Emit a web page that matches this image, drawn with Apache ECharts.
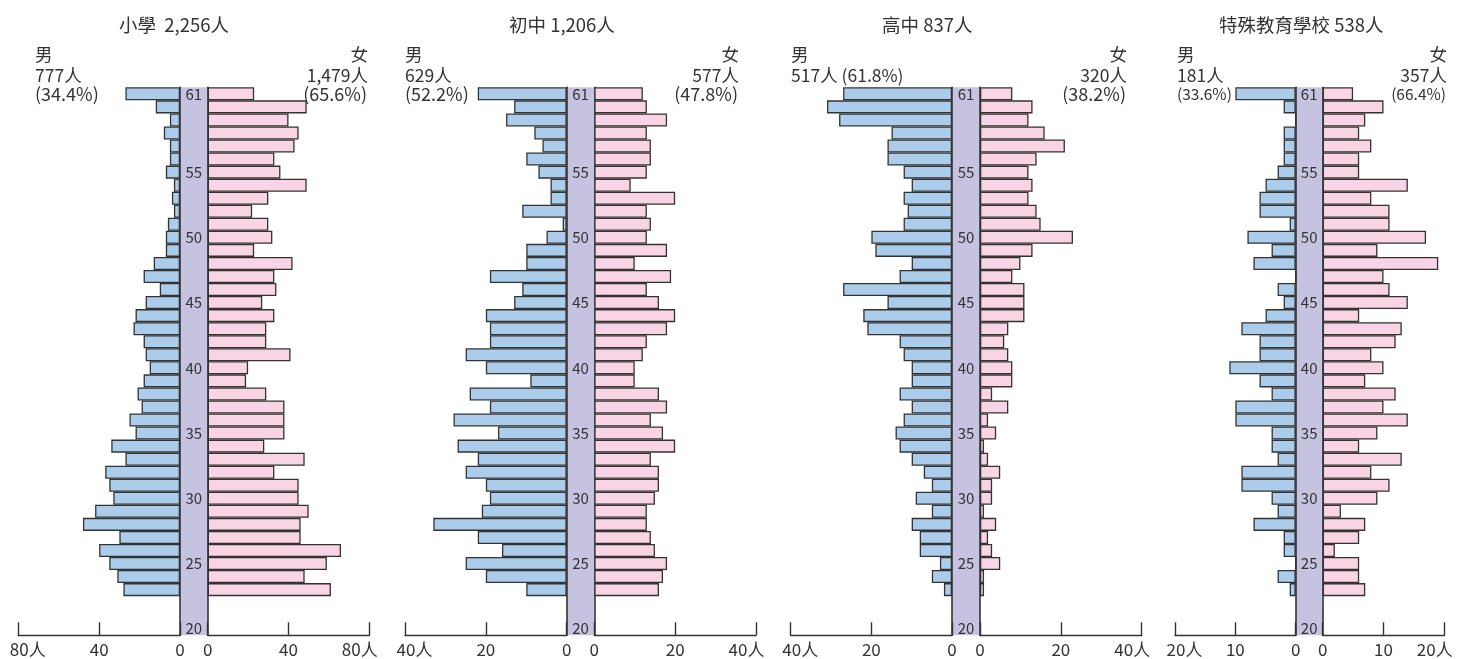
<!DOCTYPE html>
<html><head><meta charset="utf-8">
<script src="https://cdn.jsdelivr.net/npm/echarts/dist/echarts.min.js"></script>
<style>html,body{margin:0;padding:0;background:#fff}#c{width:1472px;height:659px}</style>
</head><body><div id="c"></div>
<script>
// ---- categories ----
const ages = ['20','21','22','23','24','25','26','27','28','29','30','31','32','33','34','35','36','37','38','39','40',
              '41','42','43','44','45','46','47','48','49','50','51','52','53','54','55','56','57','58','59','60','61'];
const shownAgeLabels = ['20','25','30','35','40','45','50','55','61'];

// ---- series values, listed from age 61 down to age 23 ----
const primaryMale   = [27,12,5,8,5,5,7,3,4,3, 6,7,7,13,18,10,17,22,23,18, 17,15,18,21,19,25,22,34,27,37, 35,33,42,48,30,40,35,31,28];
const primaryFemale = [23,49,40,45,43,33,36,49,30,22, 30,32,23,42,33,34,27,33,29,29, 41,20,19,29,38,38,38,28,48,33, 45,45,50,46,46,66,59,48,61];
const juniorMale    = [22,13,15,8,6,10,7,4,4,11, 1,5,10,10,19,11,13,20,19,19, 25,20,9,24,19,28,17,27,22,25, 20,19,21,33,22,16,25,20,10];
const juniorFemale  = [12,13,18,13,14,14,13,9,20,13, 14,13,18,10,19,13,16,20,18,13, 12,10,10,16,18,14,17,20,14,16, 16,15,13,13,14,15,18,17,16];
const seniorMale    = [27,31,28,15,16,16,12,10,12,11, 12,20,19,10,13,27,16,22,21,13, 12,10,10,13,10,12,14,13,10,7, 5,9,5,10,8,8,3,5,2];
const seniorFemale  = [8,13,12,16,21,14,12,13,12,14, 15,23,13,10,8,11,11,11,7,6, 7,8,8,3,7,2,4,1,2,5, 3,3,1,4,2,3,5,1,1];
const specialMale   = [10,2,0,2,2,2,3,5,6,6, 1,8,4,7,0,3,2,5,9,6, 6,11,6,4,10,10,4,4,3,9, 9,4,3,7,2,2,0,3,1];
const specialFemale = [5,10,7,6,8,6,6,14,8,11, 11,17,9,19,10,11,14,6,13,12, 8,10,7,12,10,14,9,6,13,8, 11,9,3,7,6,2,6,6,7];

// ---- texts ----
const panelTitles  = ['小學  2,256人','初中 1,206人','高中 837人','特殊教育學校 538人'];
const maleTotals   = ['777人','629人','517人','181人'];
const malePcts     = ['(34.4%)','(52.2%)','(61.8%)','(33.6%)'];
const femaleTotals = ['1,479人','577人','320人','357人'];
const femalePcts   = ['(65.6%)','(47.8%)','(38.2%)','(66.4%)'];
const axisMaxes    = [80,40,40,20];
const axisSteps    = [40,20,20,10];

const maleSets   = [primaryMale, juniorMale, seniorMale, specialMale];
const femaleSets = [primaryFemale, juniorFemale, seniorFemale, specialFemale];

// ---- layout (pixels) ----
const TOP = 87.3, HEIGHT = 548;
const layout = [
  {mL:18.3,  m0:180,    f0:207.7, fR:369.3,  titleX:119,  mX:35,   fX:368,  pctSameLine:false, pctSize:18},
  {mL:405,   m0:566.7,  f0:594.3, fR:756,    titleX:509,  mX:405,  fX:739,  pctSameLine:false, pctSize:18},
  {mL:790.7, m0:952,    f0:980,   fR:1141.7, titleX:882,  mX:791,  fX:1127, pctSameLine:true,  pctSize:18},
  {mL:1175,  m0:1295.7, f0:1322.7,fR:1444.3, titleX:1219, mX:1177, fX:1447, pctSameLine:false, pctSize:15.5}
];

const FONT = '"Noto Sans CJK TC","Noto Sans CJK SC","Noto Sans",sans-serif';
const TXT = '#333333';
const BLUE = '#abcdeb', PINK = '#f8d4e4', BAND = '#c6c3e1', EDGE = '#333333';

function toSeriesData(vals){
  const up = vals.slice().reverse(); // age 23 -> 61
  return [null,null,null].concat(up);
}

const grid = [], xAxis = [], yAxis = [], series = [], graphic = [];
layout.forEach((L, p) => {
  const max = axisMaxes[p], step = axisSteps[p];
  const gm = grid.length;
  grid.push({left:L.mL, top:TOP, width:L.m0-L.mL, height:HEIGHT, containLabel:false});
  grid.push({left:L.f0, top:TOP, width:L.fR-L.f0, height:HEIGHT, containLabel:false});
  grid.push({left:L.m0, top:TOP, width:L.f0-L.m0, height:HEIGHT, show:true, backgroundColor:BAND, borderWidth:0, containLabel:false});

  const axisCommon = {
    type:'value', min:0, max:max, interval:step, position:'bottom',
    axisLine:{show:true, lineStyle:{color:EDGE, width:1.4}},
    axisTick:{show:true, inside:true, length:13, lineStyle:{color:EDGE, width:1.4}},
    splitLine:{show:false}
  };
  xAxis.push(Object.assign({}, axisCommon, {gridIndex:gm, inverse:true,
    axisLabel:{fontSize:17, color:TXT, fontFamily:FONT, margin:6,
      formatter:v => v===max ? '{r|'+v+'人}' : String(v),
      rich:{r:{fontSize:17, color:TXT, fontFamily:FONT, padding:[0,0,0,19]}}}}));
  xAxis.push(Object.assign({}, axisCommon, {gridIndex:gm+1,
    axisLabel:{fontSize:17, color:TXT, fontFamily:FONT, margin:6,
      formatter:v => v===max ? '{l|'+v+'人}' : String(v),
      rich:{l:{fontSize:17, color:TXT, fontFamily:FONT, padding:[0,19,0,0]}}}}));
  xAxis.push({gridIndex:gm+2, type:'value', show:false, min:0, max:1});

  const yCommon = {type:'category', data:ages, axisTick:{show:false}, axisLabel:{show:false}, splitLine:{show:false}};
  yAxis.push(Object.assign({}, yCommon, {gridIndex:gm, position:'right',
    axisLine:{show:true, lineStyle:{color:EDGE, width:1.6}}}));
  yAxis.push(Object.assign({}, yCommon, {gridIndex:gm+1, position:'left',
    axisLine:{show:true, lineStyle:{color:EDGE, width:1.6}}}));
  yAxis.push({gridIndex:gm+2, type:'category', data:ages, position:'left',
    axisLine:{show:false}, axisTick:{show:false}, splitLine:{show:false},
    axisLabel:{show:true, inside:true, align:'center', margin:(L.f0-L.m0)/2, fontSize:15, color:TXT, fontFamily:FONT,
      interval:(i, v) => shownAgeLabels.indexOf(v) >= 0}});

  const barCommon = {type:'bar', barCategoryGap:'0%', barGap:'0%', silent:true};
  series.push(Object.assign({}, barCommon, {name:'男'+p, xAxisIndex:gm, yAxisIndex:gm,
    data:toSeriesData(maleSets[p]), itemStyle:{color:BLUE, borderColor:EDGE, borderWidth:1.3}}));
  series.push(Object.assign({}, barCommon, {name:'女'+p, xAxisIndex:gm+1, yAxisIndex:gm+1,
    data:toSeriesData(femaleSets[p]), itemStyle:{color:PINK, borderColor:EDGE, borderWidth:1.3}}));

  const t = (text, x, y, align, size) => ({type:'text', x:x, y:y, silent:true,
    style:{text:text, fill:TXT, font:(size||17.5)+'px '+FONT, align:align, verticalAlign:'middle',
           textAlign:align, textVerticalAlign:'middle'}});
  graphic.push(t(panelTitles[p], L.titleX, 25, 'left', 18.5));
  graphic.push(t('男', L.mX, 54.5, 'left'));
  if (L.pctSameLine) {
    graphic.push(t(maleTotals[p] + ' ' + malePcts[p], L.mX, 75.5, 'left'));
  } else {
    graphic.push(t(maleTotals[p], L.mX, 75.5, 'left'));
    graphic.push(t(malePcts[p], L.mX, 94.5, 'left', L.pctSize));
  }
  graphic.push(t('女', L.fX, 54.5, 'right'));
  graphic.push(t(femaleTotals[p], L.fX, 75.5, 'right'));
  graphic.push(t(femalePcts[p], L.fX - 1, 94.5, 'right', L.pctSize));
});

const chart = echarts.init(document.getElementById('c'), null, {renderer:'canvas'});
chart.setOption({animation:false, backgroundColor:'#ffffff', grid, xAxis, yAxis, series, graphic});
</script>
</body></html>
